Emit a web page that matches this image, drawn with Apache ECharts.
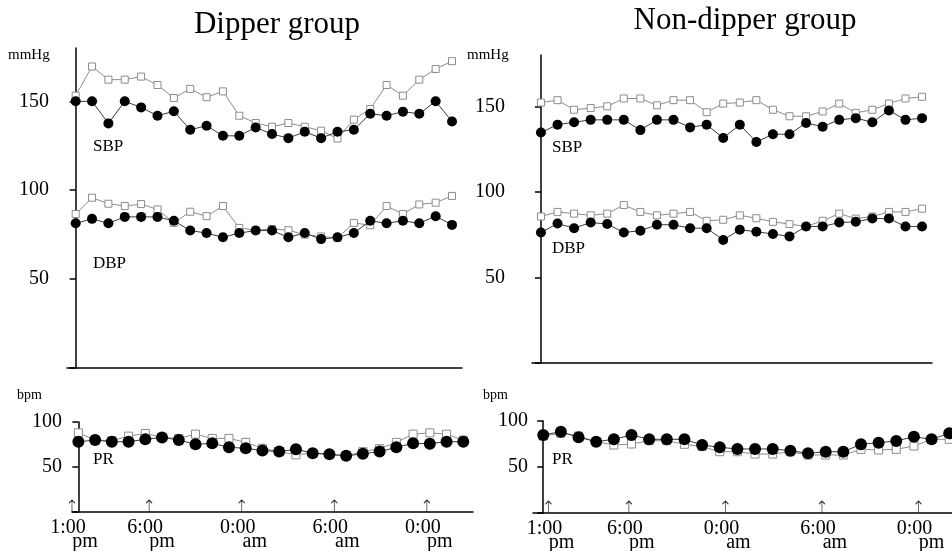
<!DOCTYPE html>
<html>
<head>
<meta charset="utf-8">
<script src="https://cdn.jsdelivr.net/npm/echarts@6/dist/echarts.min.js"></script>
<style>
html, body { margin: 0; padding: 0; background: #fff; }
#chart { width: 952px; height: 551px; }
</style>
</head>
<body>
<div id="chart"></div>
<script>
// hourly readings, 24 per curve (1:00 pm -> noon next day)
var dipSbpOpen   = [153.2,169.6,162.2,162.2,163.9,159.2,151.9,157,152.3,155.6,141.9,137.8,135.7,137.8,135.7,133.5,129.1,139.7,145.7,159.2,153.2,162.2,168.2,172.6];
var dipSbpFilled = [150,150,137.6,150,146.6,141.9,144.4,134,136.3,130.6,130.6,135.3,131.6,129.3,132.9,129.3,132.9,134,143,141.9,144.2,143,150,138.7];
var dipDbpOpen   = [86.6,95.8,92.4,91.1,92.2,89.2,81.6,87.9,85.4,91.1,78.8,77.5,78.2,77.5,75,74,73.1,81.6,80.3,91.1,86.6,92,93,96.8];
var dipDbpFilled = [81.4,83.9,81.4,85,85,85,82.8,77.3,75.9,73.5,75.9,77.3,77.3,73.5,75.9,72.5,73.5,75.9,82.8,81.4,82.8,81.4,85.4,80.5];
var dipPrOpen    = [87.9,80,79.2,84.3,87.3,83,81.8,86.5,81.8,81.8,77.4,70.8,67.1,63.5,65.4,63.5,62.4,67.1,70.4,77.4,86.5,87.9,86.5,79.9];
var dipPrFilled  = [78.1,79.9,78.1,78.1,80.7,82.9,79.9,75.2,76.3,71.9,70.8,68.2,67.1,69.7,65.4,64.3,62.4,64.6,67.1,71.9,76.3,75.9,78.1,78.1];

var nonSbpOpen   = [152.2,153.6,148,149,150,154.6,154.6,150.6,153.6,153.6,146.6,151.6,152.2,153.6,148,144.2,144.2,147,151.6,146.2,148,151.6,154.6,155.6];
var nonSbpFilled = [134.7,139.3,140.7,142.1,142.1,142.1,136.1,142.1,142.1,137.7,139.3,131.5,139.3,129.2,133.7,133.7,140.3,138.1,142.1,143.1,140.7,147.6,142.1,143.1];
var nonDbpOpen   = [85.6,88.3,87.3,86.3,87.3,92.3,88.3,86.3,87.3,88.3,83.1,83.7,86.3,84.6,82.5,81.2,79.8,83.1,87.3,84.4,85.6,88.3,88.3,90.2];
var nonDbpFilled = [76.3,81.5,78.8,82.1,81.2,76.3,77.3,80.8,80.8,78.8,78.8,71.9,77.9,76.7,75.4,74,79.8,79.8,82.1,82.5,84.4,84.4,79.8,79.8];
var nonPrOpen    = [83.7,86.6,83.7,77.5,73.9,75,78.6,78.6,74.7,72.1,66.6,66.6,64.1,64.1,66.6,63,63,63,69.2,68.5,69.2,72.8,80.1,80.1];
var nonPrFilled  = [84.8,88.4,82.3,77.5,80.1,84.8,80.1,80.1,80.1,73.9,71.4,69.6,69.6,69.6,67.7,64.9,66.6,66.6,74.7,76.4,78.3,82.9,80.1,86.6];

// time axis (hours from midnight of day 1)
var timeTicks  = [13, 18, 24, 30, 36];
var timeLabels = ['1:00', '6:00', '0:00', '6:00', '0:00'];
var timeSuffix = ['pm', 'pm', 'am', 'am', 'pm'];
var bpTicks    = [50, 100, 150];

var serif = "'Liberation Serif', 'Times New Roman', serif";

function pairs(arr) {
    return arr.map(function (v, i) { return [i, v]; });
}

function openLine(data, xi, yi, size) {
    return {
        type: 'line', xAxisIndex: xi, yAxisIndex: yi, data: pairs(data),
        symbol: 'rect', symbolSize: size, showAllSymbol: true, z: 2,
        itemStyle: { color: '#fff', borderColor: '#8c8c8c', borderWidth: 1 },
        lineStyle: { color: '#8c8c8c', width: 1 }
    };
}

function filledLine(data, xi, yi, size) {
    return {
        type: 'line', xAxisIndex: xi, yAxisIndex: yi, data: pairs(data),
        symbol: 'circle', symbolSize: size, showAllSymbol: true, z: 3,
        itemStyle: { color: '#000' },
        lineStyle: { color: '#3a3a3a', width: 1 }
    };
}

function arrows(xi, yi) {
    return {
        type: 'scatter', xAxisIndex: xi, yAxisIndex: yi, silent: true, z: 4,
        data: timeTicks.map(function (h) { return [h, 0]; }),
        symbol: 'path://M5,24 L5,1 M1,7 L5,1 L9,7',
        symbolSize: [6, 12], symbolOffset: [0, -6],
        itemStyle: { color: 'none', borderColor: '#000', borderWidth: 1 }
    };
}

var axisLine = { show: true, lineStyle: { color: '#000', width: 1.5 } };

function plainX(grid, min, max) {
    return {
        type: 'value', gridIndex: grid, min: min, max: max, position: 'bottom',
        axisLine: axisLine, axisTick: { show: false },
        axisLabel: { show: false }, splitLine: { show: false }
    };
}

function hiddenX(grid, min, max) {
    return { type: 'value', gridIndex: grid, min: min, max: max, position: 'top', show: false };
}

function timeX(grid, min, max) {
    return {
        type: 'value', gridIndex: grid, min: min, max: max, position: 'bottom',
        axisLine: axisLine, axisTick: { show: false }, splitLine: { show: false },
        axisLabel: {
            customValues: timeTicks, margin: 8, color: '#000',
            formatter: function (v) {
                var i = timeTicks.indexOf(v);
                return '{t|' + timeLabels[i] + '}\n{p|' + timeSuffix[i] + '}';
            },
            rich: {
                t: { fontFamily: serif, fontSize: 20, lineHeight: 15, padding: [0, 8, 0, 0], color: '#000' },
                p: { fontFamily: serif, fontSize: 20, lineHeight: 13, padding: [0, 0, 0, 26], color: '#000' }
            }
        }
    };
}

function bpY(grid, margin) {
    return {
        type: 'value', gridIndex: grid, min: 0, max: 180,
        axisLine: axisLine, splitLine: { show: false },
        axisTick: { show: true, customValues: [0].concat(bpTicks), length: 6, lineStyle: { color: '#000', width: 1.5 } },
        axisLabel: { customValues: bpTicks, margin: margin, fontFamily: serif, fontSize: 20, color: '#000' }
    };
}

function prY(grid, margin) {
    return {
        type: 'value', gridIndex: grid, min: 0, max: 100, interval: 50,
        axisLine: axisLine, splitLine: { show: false },
        axisTick: { show: true, length: 6, lineStyle: { color: '#000', width: 1.5 } },
        axisLabel: {
            margin: margin, fontFamily: serif, fontSize: 20, color: '#000',
            formatter: function (v) { return v === 0 ? '' : v; }
        }
    };
}

function txt(s, x, y, size, align) {
    return {
        type: 'text', x: x, y: y, silent: true,
        style: { text: s, fontFamily: serif, fontSize: size, fill: '#000',
                 textAlign: align || 'left', textVerticalAlign: 'middle' }
    };
}

var option = {
    animation: false,
    backgroundColor: '#fff',
    grid: [
        { left: 67, top: 48, width: 395, height: 320, outerBoundsMode: 'none' },
        { left: 532, top: 55, width: 400, height: 308, outerBoundsMode: 'none' },
        { left: 72, top: 422, width: 401, height: 90, outerBoundsMode: 'none' },
        { left: 533, top: 421, width: 427, height: 92, outerBoundsMode: 'none' }
    ],
    xAxis: [
        plainX(0, -0.53, 23.61),
        plainX(1, -0.54, 23.6),
        hiddenX(2, -0.38, 23.58),
        timeX(2, 13, 38.99),
        hiddenX(3, -0.58, 23.61),
        timeX(3, 12.04, 38.58)
    ],
    yAxis: [
        bpY(0, 18),
        bpY(1, 27),
        prY(2, 10),
        prY(3, 5)
    ],
    graphic: [
        txt('Dipper group', 277, 25, 31, 'center'),
        txt('Non-dipper group', 745, 21, 31, 'center'),
        txt('mmHg', 8, 55, 15),
        txt('mmHg', 467, 55, 15),
        txt('bpm', 17, 395, 14),
        txt('bpm', 483, 395, 14),
        txt('SBP', 93, 147, 17),
        txt('DBP', 93, 264, 17),
        txt('PR', 93, 460, 17),
        txt('SBP', 552, 148, 17),
        txt('DBP', 552, 249, 17),
        txt('PR', 552, 460, 17)
    ],
    series: [
        openLine(dipSbpOpen, 0, 0, 7),
        filledLine(dipSbpFilled, 0, 0, 10),
        openLine(dipDbpOpen, 0, 0, 7),
        filledLine(dipDbpFilled, 0, 0, 10),
        openLine(nonSbpOpen, 1, 1, 7),
        filledLine(nonSbpFilled, 1, 1, 10),
        openLine(nonDbpOpen, 1, 1, 7),
        filledLine(nonDbpFilled, 1, 1, 10),
        openLine(dipPrOpen, 2, 2, 8),
        filledLine(dipPrFilled, 2, 2, 12),
        arrows(3, 2),
        openLine(nonPrOpen, 4, 3, 8),
        filledLine(nonPrFilled, 4, 3, 12),
        arrows(5, 3)
    ]
};

var myChart = echarts.init(document.getElementById('chart'));
myChart.setOption(option);
</script>
</body>
</html>
